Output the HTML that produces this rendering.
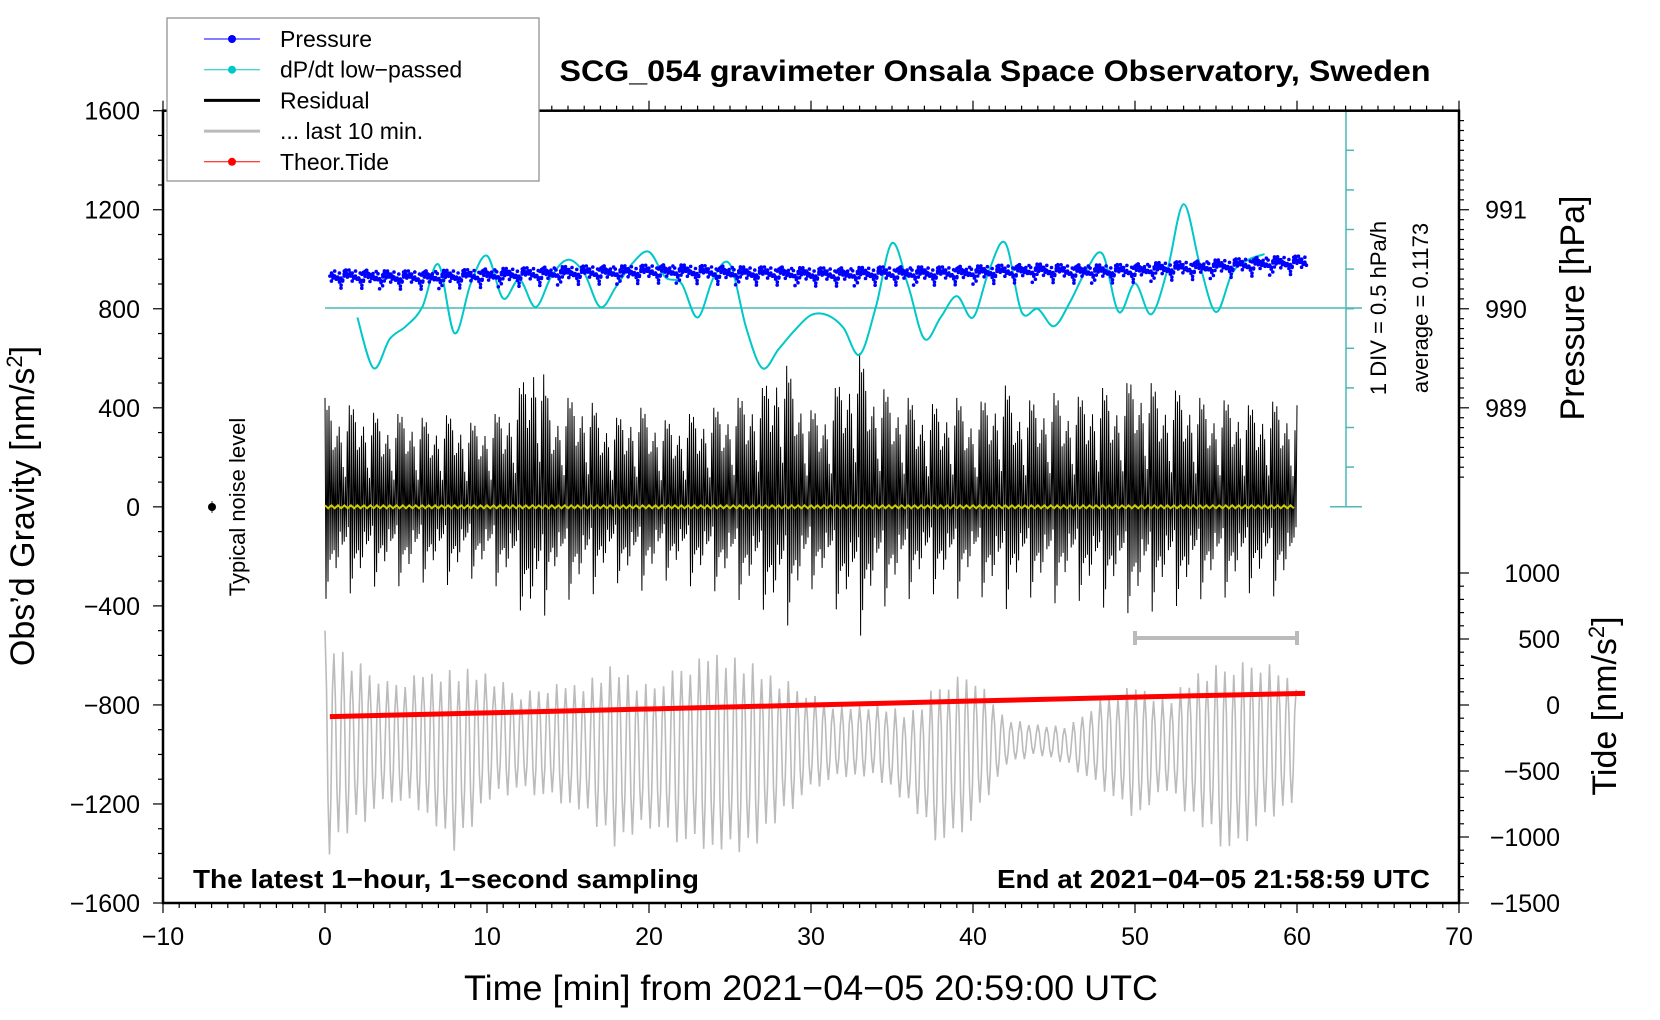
<!DOCTYPE html>
<html><head><meta charset="utf-8"><style>
html,body{margin:0;padding:0;background:#fff;width:1660px;height:1020px;overflow:hidden}
svg{display:block;font-family:"Liberation Sans",sans-serif}
</style></head><body>
<svg id="chart" width="1660" height="1020" viewBox="0 0 1660 1020">
<g id="marks"></g>
<g id="axes"></g>
</svg>
<script>
// ---------- data ----------
const xTicks = [-10,0,10,20,30,40,50,60,70];
const yTicks = [1600,1200,800,400,0,-400,-800,-1200,-1600];
const pTicks = [991,990,989];
const tideTicks = [1000,500,0,-500,-1000,-1500];
const dpdtTimes = [2,3,4,5,6,7,8,9,10,11,12,13,14,15,16,17,18,19,20,21,22,23,24,25,26,27,28,29,30,31,32,33,34,35,36,37,38,39,40,41,42,43,44,45,46,47,48,49,50,51,52,53,54,55,56,57,58];
const dpdtValues = [-0.12,-0.76,-0.39,-0.23,0.01,0.55,-0.32,0.31,0.66,0.12,0.36,0.01,0.41,0.61,0.44,0.01,0.28,0.57,0.71,0.39,0.31,-0.12,0.39,0.55,-0.25,-0.76,-0.52,-0.28,-0.09,-0.09,-0.25,-0.59,0.01,0.82,0.28,-0.39,-0.12,0.15,-0.12,0.48,0.82,-0.05,-0.01,-0.23,0.08,0.48,0.68,-0.05,0.31,-0.08,0.48,1.31,0.55,-0.05,0.44,0.61,0.68];
const pressureTimes = [0,2,4,6,8,10,12,14,16,18,20,22,24,26,28,30,32,34,36,38,40,42,44,46,48,50,52,54,56,58,60];
const pressureValues = [990.33,990.33,990.32,990.32,990.33,990.34,990.35,990.36,990.37,990.37,990.38,990.38,990.37,990.36,990.36,990.35,990.35,990.36,990.36,990.36,990.37,990.38,990.39,990.38,990.38,990.39,990.41,990.42,990.44,990.46,990.47];
const residualMinutes = [0,1,2,3,4,5,6,7,8,9,10,11,12,13,14,15,16,17,18,19,20,21,22,23,24,25,26,27,28,29,30,31,32,33,34,35,36,37,38,39,40,41,42,43,44,45,46,47,48,49,50,51,52,53,54,55,56,57,58,59,60];
const residualEnvelope = [440,400,420,380,360,390,360,360,380,340,360,390,480,680,390,440,460,380,360,410,390,350,360,390,400,420,460,480,620,520,390,420,540,620,490,460,440,410,420,440,390,460,490,420,440,460,430,460,480,460,540,500,460,480,440,420,440,410,420,430,410];
const greyUpper = [-500,-620,-700,-650,-650,-660,-750,-700,-700,-630,-720,-620,-560,-620,-680,-750,-800,-790,-830,-700,-650,-850,-880,-880,-760,-700,-780,-650,-620,-600,-700];
const greyLower = [-1420,-1300,-1200,-1250,-1400,-1200,-1150,-1200,-1250,-1380,-1300,-1380,-1420,-1400,-1280,-1150,-1100,-1100,-1200,-1380,-1300,-1050,-1000,-1050,-1150,-1280,-1150,-1300,-1420,-1300,-1200];
const tideTimes = [0.3,10,20,30,40,50,60.5];
const tideValues = [-88,-60,-30,0,30,60,88];

// ---------- scales ----------
const X0=163, X1=1459, Y0=110.7, Y1=903;
const xs = m => X0 + (m+10)/80*(X1-X0);
const ys = g => Y0 + (1600-g)/3200*(Y1-Y0);
const ps = p => ys(800 + (p-990)*400);
const ts = t => 705 - t/500*66;
const dps = v => 308 - v/0.5*39.6;
const NS='http://www.w3.org/2000/svg';
const marks=document.getElementById('marks'), axes=document.getElementById('axes');
function mk(tag, attrs, parent){const e=document.createElementNS(NS,tag);for(const k in attrs)e.setAttribute(k,attrs[k]);(parent||marks).appendChild(e);return e;}
function interp(arrT, arrV, t){ if(t<=arrT[0])return arrV[0]; for(let i=1;i<arrT.length;i++){ if(t<=arrT[i]){const f=(t-arrT[i-1])/(arrT[i]-arrT[i-1]);return arrV[i-1]+f*(arrV[i]-arrV[i-1]);}} return arrV[arrV.length-1];}
const mod=[1,0.45,0.8,0.3,0.95,0.6,0.4,0.85,0.55,0.25,0.75,0.5,0.7,0.35,0.9,0.42,0.65,0.2,0.82,0.5,0.3,0.7,0.58,0.38];

// grey last 10 min
{let d='';const step=0.55/2;let k=0;for(let t=0;t<=60;t+=step/3){const ph=k%6;const u=interp(pressureTimes,greyUpper,t),l=interp(pressureTimes,greyLower,t);const c=(u+l)/2,a=(u-l)/2*(0.75+0.25*mod[Math.floor(k/6)%16]);const v=c+a*Math.cos(ph/6*2*Math.PI);d+=(k?'L':'M')+xs(t).toFixed(1)+','+ys(v).toFixed(1);k++;}
const p=mk('path',{d:d,fill:'none',stroke:'#bbb','stroke-width':1.6});

}

// residual
{let d='';let k=0;for(let t=0;t<=60;t+=1/16){const env=interp(residualMinutes,residualEnvelope,t);const a=env*mod[(k*7)%24]*(k%2?-1:1);d+=(k?'L':'M')+xs(t).toFixed(1)+','+ys(a).toFixed(1);k++;}
const p=mk('path',{d:d,fill:'none',stroke:'#000','stroke-width':1});

}
// yellow zero
{let d='';let k=0;for(let t=0;t<=60;t+=0.2){d+=(k?'L':'M')+xs(t).toFixed(1)+','+(ys(0)+(k%2?1.5:-1.5)).toFixed(1);k++;}
const p=mk('path',{d:d,fill:'none',stroke:'#cccc00','stroke-width':2});

}

// cyan zero line & dp/dt axis
{const l=mk('line',{x1:xs(0),y1:308,x2:1362,y2:308,stroke:'#4cb8b8','stroke-width':1.5});


const ax=mk('line',{x1:1346,y1:Y0,x2:1346,y2:507,stroke:'#4cb8b8','stroke-width':1.5});


for(let i=0;i<=10;i++){const y=Y0+i*39.6;const w=(i==0||i==10)?16:8;mk('line',{x1:i==0||i==10?1330:1346,y1:y,x2:1346+w,y2:y,stroke:'#4cb8b8','stroke-width':1.5});}}
// dp/dt curve (catmull-rom)
{const pts=dpdtTimes.map((t,i)=>[xs(t),dps(dpdtValues[i])]);let d='M'+pts[0][0]+','+pts[0][1];
for(let i=0;i<pts.length-1;i++){const p0=pts[Math.max(0,i-1)],p1=pts[i],p2=pts[i+1],p3=pts[Math.min(pts.length-1,i+2)];
d+='C'+(p1[0]+(p2[0]-p0[0])/6).toFixed(1)+','+(p1[1]+(p2[1]-p0[1])/6).toFixed(1)+' '+(p2[0]-(p3[0]-p1[0])/6).toFixed(1)+','+(p2[1]-(p3[1]-p1[1])/6).toFixed(1)+' '+p2[0].toFixed(1)+','+p2[1].toFixed(1);}
const p=mk('path',{d:d,fill:'none',stroke:'#00c8c8','stroke-width':2});

}

// pressure dots
{const g=mk('g',{fill:'#0000ff'});
const jit=[0,3,-4,2,-2,5,-3,1,-5,4,-1,2,-6,3,0,-3,6,-2,1,-4,2,12,-1,3,-5,0,4,-3,2,-6,1,9,-2,3,-1,0,5];let k=0;
for(let t=0.3;t<=60.5;t+=0.033){const v=interp(pressureTimes,pressureValues,t);mk('circle',{cx:(xs(t)+(k%3)).toFixed(1),cy:(ps(v)+jit[(k*5)%37]).toFixed(1),r:1.8},g);k++;}}

// tide
{const g=mk('g',{});
let d='';for(let i=0;i<tideTimes.length;i++)d+=(i?'L':'M')+xs(tideTimes[i])+','+ts(tideValues[i]);
mk('path',{d:d,stroke:'#ff0000','stroke-width':5,fill:'none'},g);}

// grey time bar
{const g=mk('g',{stroke:'#bbb','stroke-width':4});
mk('line',{x1:xs(50),y1:638,x2:xs(60),y2:638},g);mk('line',{x1:xs(50),y1:631,x2:xs(50),y2:645},g);mk('line',{x1:xs(60),y1:631,x2:xs(60),y2:645},g);}
// noise level
{const g=mk('g',{});
mk('line',{x1:212,y1:501,x2:212,y2:513,stroke:'#999','stroke-width':2},g);mk('circle',{cx:212,cy:507,r:4,fill:'#000'},g);}

// ---------- axes ----------
function T(txt,x,y,opt,name){const e=mk('text',Object.assign({x:x,y:y,'font-size':25,fill:'#000'},opt||{}),axes);e.textContent=txt;return e;}
mk('rect',{x:X0,y:Y0,width:X1-X0,height:Y1-Y0,fill:'none',stroke:'#000','stroke-width':2.5},axes);
for(let m=-10;m<=70;m++){const x=xs(m),maj=m%10==0;mk('line',{x1:x,y1:Y1,x2:x,y2:Y1+(maj?10:5),stroke:'#000','stroke-width':1.2},axes);mk('line',{x1:x,y1:Y0,x2:x,y2:Y0-(maj?10:5),stroke:'#000','stroke-width':1.2},axes);}
xTicks.forEach(v=>T(String(v).replace('-','\u2212'),xs(v),945,{'text-anchor':'middle'},'x-tick-label'));
for(let g=-1600;g<=1600;g+=100){const y=ys(g),maj=g%400==0;mk('line',{x1:X0,y1:y,x2:X0-(maj?10:5),y2:y,stroke:'#000','stroke-width':1.2},axes);}
yTicks.forEach(v=>T(String(v).replace('-','\u2212'),140,ys(v)+9,{'text-anchor':'end'},'y-tick-label'));
for(let p=988.3;p<=991.95;p+=0.1){const y=ps(p);if(y<Y0-1||y>507)continue;const maj=Math.abs(p-Math.round(p))<0.01;mk('line',{x1:X1,y1:y,x2:X1+(maj?10:5),y2:y,stroke:'#000','stroke-width':1.2},axes);}
pTicks.forEach(v=>T(String(v),1506,ps(v)+9,{'text-anchor':'middle'},'pressure-tick-label'));
for(let t=-1500;t<=1000;t+=100){const y=ts(t);const maj=t%500==0;mk('line',{x1:X1,y1:y,x2:X1+(maj?10:5),y2:y,stroke:'#000','stroke-width':1.2},axes);}
tideTicks.forEach(v=>T(String(v).replace('-','\u2212'),1560,ts(v)+9,{'text-anchor':'end'},'tide-tick-label'));

T('Time [min] from 2021\u221204\u221205 20:59:00 UTC',811,1000,{'text-anchor':'middle','font-size':35,textLength:694,lengthAdjust:'spacingAndGlyphs'},'x-axis-title');
const yl=T('',0,0,{'text-anchor':'middle','font-size':34,transform:'translate(34,506) rotate(-90)'},'y-axis-title');
yl.innerHTML='Obs\u2019d Gravity [nm/s<tspan dy="-12" font-size="22">2</tspan><tspan dy="12">]</tspan>';
T('Pressure [hPa]',0,0,{'text-anchor':'middle','font-size':34,transform:'translate(1584,308) rotate(-90)'},'pressure-axis-title');
const tl=T('',0,0,{'text-anchor':'middle','font-size':34,transform:'translate(1616,706) rotate(-90)'},'tide-axis-title');
tl.innerHTML='Tide [nm/s<tspan dy="-12" font-size="22">2</tspan><tspan dy="12">]</tspan>';
T('1 DIV = 0.5 hPa/h',0,0,{'text-anchor':'middle','font-size':22,transform:'translate(1386,308) rotate(-90)'},'dpdt-scale-label');
T('average = 0.1173',0,0,{'text-anchor':'middle','font-size':22,transform:'translate(1428,308) rotate(-90)'},'dpdt-average-label');
T('Typical noise level',0,0,{'text-anchor':'middle','font-size':22,transform:'translate(245,507) rotate(-90)'},'noise-level-label');
T('SCG_054 gravimeter Onsala Space Observatory, Sweden',995,81,{'text-anchor':'middle','font-size':30,'font-weight':'bold',textLength:871,lengthAdjust:'spacingAndGlyphs'},'chart-title');
T('The latest 1\u2212hour, 1\u2212second sampling',193,888,{'font-size':26,'font-weight':'bold',textLength:506,lengthAdjust:'spacingAndGlyphs'},'sampling-note');
T('End at 2021\u221204\u221205 21:58:59 UTC',1430,888,{'text-anchor':'end','font-size':26,'font-weight':'bold',textLength:433,lengthAdjust:'spacingAndGlyphs'},'end-time-note');

// legend
{const g=mk('g',{},axes);
mk('rect',{x:167,y:18,width:372,height:163,fill:'#fff',stroke:'#888','stroke-width':1.2},g);
const items=[['Pressure','#0000ff',1,true],['dP/dt low\u2212passed','#00c8c8',1,true],['Residual','#000',3,false],['... last 10 min.','#bbb',3,false],['Theor.Tide','#ff0000',1,true]];
items.forEach((it,i)=>{const y=39+i*30.7;const e=mk('g',{},g);
mk('line',{x1:204,y1:y,x2:260,y2:y,stroke:it[1],'stroke-width':it[2]},e);if(it[3])mk('circle',{cx:232,cy:y,r:4,fill:it[1]},e);
const t=mk('text',{x:280,y:y+8,'font-size':23},e);t.textContent=it[0];});}
</script>
</body></html>
